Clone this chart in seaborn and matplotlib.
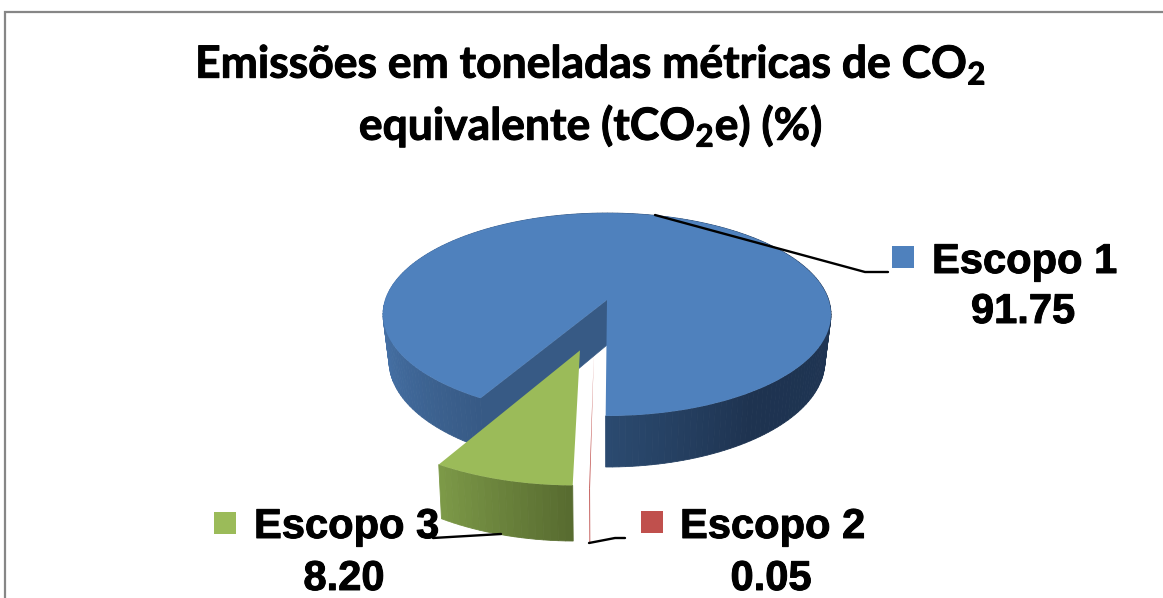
import matplotlib
matplotlib.use('Agg')
import matplotlib.pyplot as plt
import matplotlib.patheffects as pe
import matplotlib.transforms as mtransforms
import numpy as np
import seaborn as sns

categorias = ['Escopo 1', 'Escopo 2', 'Escopo 3']
valores = [91.75, 0.05, 8.20]
rotulos = ['91.75', '0.05', '8.20']
cores = ['#4f81bd', '#c0504d', '#9bbb59']

sns.set_theme(style='white')
plt.rcParams['mathtext.default'] = 'regular'

fig, ax = plt.subplots(figsize=(11.63, 5.98), dpi=100)
fig.subplots_adjust(0, 0, 1, 1)


# projecao em perspectiva do disco unitario para pixels da imagem
class Perspectiva(mtransforms.Transform):
    input_dims = 2
    output_dims = 2

    def __init__(self, y0, a, b, c):
        super().__init__()
        self.y0, self.a, self.b, self.c = y0, a, b, c

    def transform_non_affine(self, values):
        values = np.asarray(values)
        w = 1 + self.b * values[:, 1]
        return np.column_stack((607 + self.a * values[:, 0] / w,
                                self.y0 - self.c * values[:, 1] / w))


topo = Perspectiva(300, 221.7, 0.1429, 99.4)
base = Perspectiva(345, 215.5, 0.15, 103.7)

wedges, _ = ax.pie(valores, colors=cores, startangle=240, counterclock=False,
                   explode=[0, 0.49, 0.49], wedgeprops={'linewidth': 0})
wedges[1].set_center((-0.055, -0.49))
cx, cy = wedges[2].center
wedges[2].set_center((cx + 0.015, cy))

ax.set_aspect('auto')
ax.set_xlim(0, 1163)
ax.set_ylim(598, 0)
ax.axis('off')

# cores da lateral conforme o angulo
angulos_lado = {
    0: ([-90, -55, 0, 180, 240], ['#2b4a70', '#1e3350', '#1f3554', '#4a78b0', '#375a85']),
    1: ([-90, 270], ['#c0504d', '#c0504d']),
    2: ([-120, -90], ['#7d9a48', '#566a2f']),
}


def lateral(w, i):
    pos, hexes = angulos_lado[i]
    rgb = np.array([matplotlib.colors.to_rgb(h) for h in hexes])
    n = max(int((w.theta2 - w.theta1) / 1.5), 1)
    th = np.linspace(w.theta1, w.theta2, n + 1)
    xy = np.column_stack((w.center[0] + np.cos(np.radians(th)),
                          w.center[1] + np.sin(np.radians(th))))
    sup = topo.transform_non_affine(xy)
    inf = base.transform_non_affine(xy)
    for k in range(n):
        meio = (th[k] + th[k + 1]) / 2
        if i == 2 and meio > 0:
            meio -= 360
        cor = [np.interp(meio, pos, rgb[:, c]) for c in range(3)]
        ax.fill([sup[k, 0], sup[k + 1, 0], inf[k + 1, 0], inf[k, 0]],
                [sup[k, 1], sup[k + 1, 1], inf[k + 1, 1], inf[k, 1]],
                color=cor, lw=0 if i == 1 else 0.6, zorder=1 + i)


for i, w in enumerate(wedges):
    lateral(w, i)
    w.set_transform(topo + ax.transData)
    w.set_zorder(2 + i + 0.5)
wedges[2].set_zorder(4)

# parede interna da fatia azul
t = np.radians(wedges[0].theta2)
parede = np.array([[0, 0], [np.cos(t), np.sin(t)]])
p_sup = topo.transform_non_affine(parede)
p_inf = base.transform_non_affine(parede)
ax.fill([p_sup[0, 0], p_sup[1, 0], p_inf[1, 0], p_inf[0, 0]],
        [p_sup[0, 1], p_sup[1, 1], p_inf[1, 1], p_inf[0, 1]],
        color='#375a85', lw=0.5, zorder=1.5)

# moldura
ax.plot([5, 5, 1163], [598, 12, 12], color='#868686', lw=1.6, zorder=1, solid_joinstyle='miter')

# contorno leve para engrossar as letras
grosso = [pe.withStroke(linewidth=0.7, foreground='black')]

# titulo
ax.text(591, 78, 'Emissões em toneladas métricas de CO$_2$', family='Lato', weight='bold',
        fontsize=32, ha='center', va='baseline', color='black', zorder=8, path_effects=grosso)
ax.text(591, 140, 'equivalente (tCO$_2$e) (%)', family='Lato', weight='bold',
        fontsize=32, ha='center', va='baseline', color='black', zorder=8, path_effects=grosso)

# legendas junto das fatias
sns.scatterplot(x=[903, 652, 225], y=[257, 522, 523], hue=categorias, palette=cores,
                marker='s', s=270, linewidth=0, legend=False, ax=ax, zorder=6)
fonte = dict(family='Liberation Sans', weight='bold', fontsize=30, color='black', zorder=6,
             va='baseline', path_effects=grosso)
ax.text(932, 273, categorias[0], ha='left', **fonte)
ax.text(1023, 323, rotulos[0], ha='center', **fonte)
ax.text(680, 538, categorias[1], ha='left', **fonte)
ax.text(771, 590, rotulos[1], ha='center', **fonte)
ax.text(254, 538, categorias[2], ha='left', **fonte)
ax.text(344, 590, rotulos[2], ha='center', **fonte)

# linhas de chamada
ax.plot([655, 865, 888], [215, 272, 272], color='black', lw=1.7, zorder=7)
ax.plot([501, 433], [534, 538], color='black', lw=1.7, zorder=7)
ax.plot([589, 615, 625], [543, 538, 538], color='black', lw=1.7, zorder=7)

fig.savefig('out.png', dpi=100)
